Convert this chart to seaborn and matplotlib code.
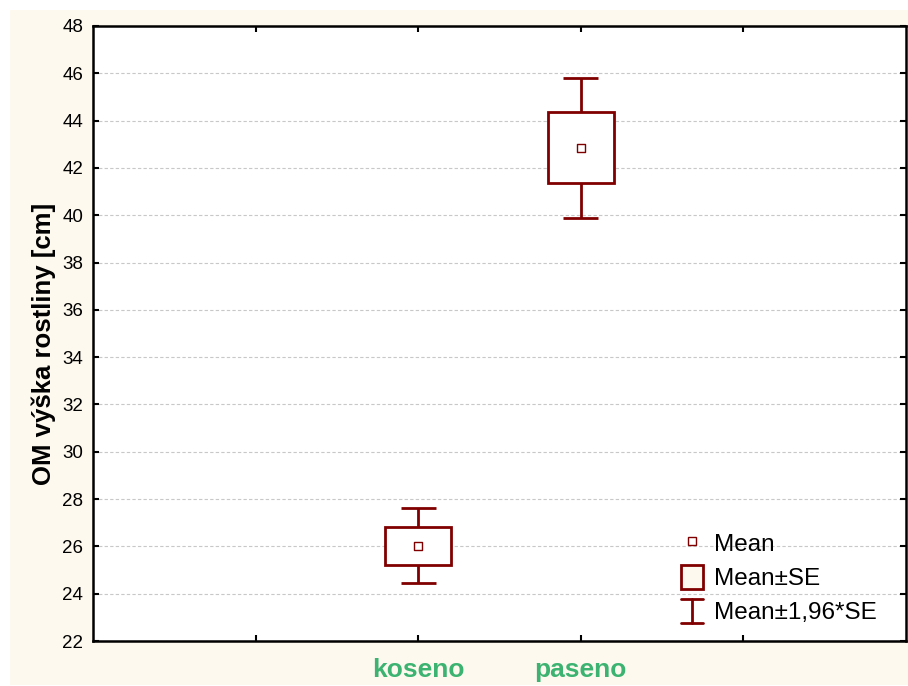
import matplotlib
matplotlib.use("Agg")
import matplotlib.pyplot as plt
import seaborn as sns
import numpy as np
import pandas as pd
from matplotlib.patches import Rectangle
from matplotlib.lines import Line2D
from matplotlib.legend_handler import HandlerBase

# ---- data ----
categories = ["koseno", "paseno"]
means = [26.02, 42.86]
se = [0.81, 1.51]
ci_factor = 1.96
y_ticks = list(range(22, 49, 2))
legend_labels = ["Mean", "Mean±SE", "Mean±1,96*SE"]
y_label = "OM výška rostliny [cm]"

sns.set_theme(style="white")
plt.rcParams["font.family"] = ["Liberation Sans", "DejaVu Sans"]
plt.rcParams["text.color"] = "black"

DARK = "#800000"
CREAM = "#FEF9EE"
GREEN = "#3CB371"

W, H = 908, 686
fig = plt.figure(figsize=(W / 100, H / 100), dpi=100, facecolor="white")
fig.patches.append(Rectangle((10 / W, 1 / H), 1 - 10 / W, 1 - 11 / H,
                             transform=fig.transFigure, facecolor=CREAM,
                             edgecolor="none", zorder=-10))
ax = fig.add_axes([93 / W, 1 - 641 / H, 813 / W, 615 / H])
ax.set_facecolor("white")

df = pd.DataFrame({"cat": categories, "pos": np.arange(len(categories)),
                   "mean": means, "se": se})
df["se_lo"] = df["mean"] - df["se"]
df["se_hi"] = df["mean"] + df["se"]
df["ci_lo"] = df["mean"] - ci_factor * df["se"]
df["ci_hi"] = df["mean"] + ci_factor * df["se"]

box_w = 0.405
cap_w = 0.215
lw = 2.0
for _, r in df.iterrows():
    ax.add_patch(Rectangle((r["pos"] - box_w / 2, r["se_lo"]), box_w,
                           r["se_hi"] - r["se_lo"], facecolor="white",
                           edgecolor=DARK, lw=lw, zorder=3))
ax.vlines(df["pos"], df["ci_lo"], df["se_lo"], color=DARK, lw=lw, zorder=3)
ax.vlines(df["pos"], df["se_hi"], df["ci_hi"], color=DARK, lw=lw, zorder=3)
ax.hlines(df["ci_lo"], df["pos"] - cap_w / 2, df["pos"] + cap_w / 2, color=DARK, lw=lw, zorder=3)
ax.hlines(df["ci_hi"], df["pos"] - cap_w / 2, df["pos"] + cap_w / 2, color=DARK, lw=lw, zorder=3)
sns.scatterplot(data=df, x="pos", y="mean", marker="s", s=28, facecolor="white",
                edgecolor=DARK, linewidth=1.0, zorder=5, ax=ax, legend=False)

ax.set_xlim(-2, 3)
ax.set_ylim(22, 48)
ax.set_yticks(y_ticks)
ax.set_xticks([-1, 0, 1, 2])
ax.set_xticklabels([""] + categories + [""])
ax.set_xlabel("")
ax.set_ylabel(y_label, fontsize=18.5, fontweight="bold", color="black")
ax.yaxis.set_label_coords(-0.045, 0.4826)

ax.yaxis.grid(True, linestyle=(0, (3, 2)), color="#C8C8C8", lw=0.8)
ax.xaxis.grid(False)
ax.set_axisbelow(True)

for s in ax.spines.values():
    s.set_color("black")
    s.set_linewidth(1.8)
    s.set_visible(True)

ax.tick_params(axis="both", direction="in", length=4, width=1.5, color="black",
               bottom=True, top=True, left=True, right=True)
ax.tick_params(axis="y", labelsize=13.5, pad=7, labelcolor="black")
ax.tick_params(axis="x", labelsize=19, pad=12, labelcolor=GREEN)
for t in ax.get_xticklabels():
    t.set_fontweight("bold")


class WhiskerKey:
    pass


class WhiskerHandler(HandlerBase):
    def create_artists(self, legend, orig_handle, xdescent, ydescent, width,
                       height, fontsize, trans):
        cx = width / 2 - xdescent
        y0, y1 = -ydescent, height - ydescent
        x0, x1 = -xdescent, width - xdescent
        return [Line2D([cx, cx], [y0, y1], color=DARK, lw=lw, transform=trans),
                Line2D([x0, x1], [y0, y0], color=DARK, lw=lw, transform=trans),
                Line2D([x0, x1], [y1, y1], color=DARK, lw=lw, transform=trans)]


h_mean = Line2D([], [], marker="s", ls="none", markersize=5.3,
                markerfacecolor="white", markeredgecolor=DARK, markeredgewidth=1.0)
h_se = Rectangle((0, 0), 1, 1, facecolor=CREAM, edgecolor=DARK, lw=2)
h_ci = WhiskerKey()
leg = ax.legend([h_mean, h_se, h_ci], legend_labels,
                handler_map={WhiskerKey: WhiskerHandler()},
                loc="upper left", bbox_to_anchor=(680.7 / W, 1 - 531 / H),
                bbox_transform=fig.transFigure, frameon=False, fontsize=17.5,
                borderpad=0, borderaxespad=0, handlelength=0.93, handleheight=1.11,
                handletextpad=0.42, labelspacing=0.38)
for t in leg.get_texts():
    t.set_color("black")

fig.savefig("out.png", dpi=100, facecolor=fig.get_facecolor())
